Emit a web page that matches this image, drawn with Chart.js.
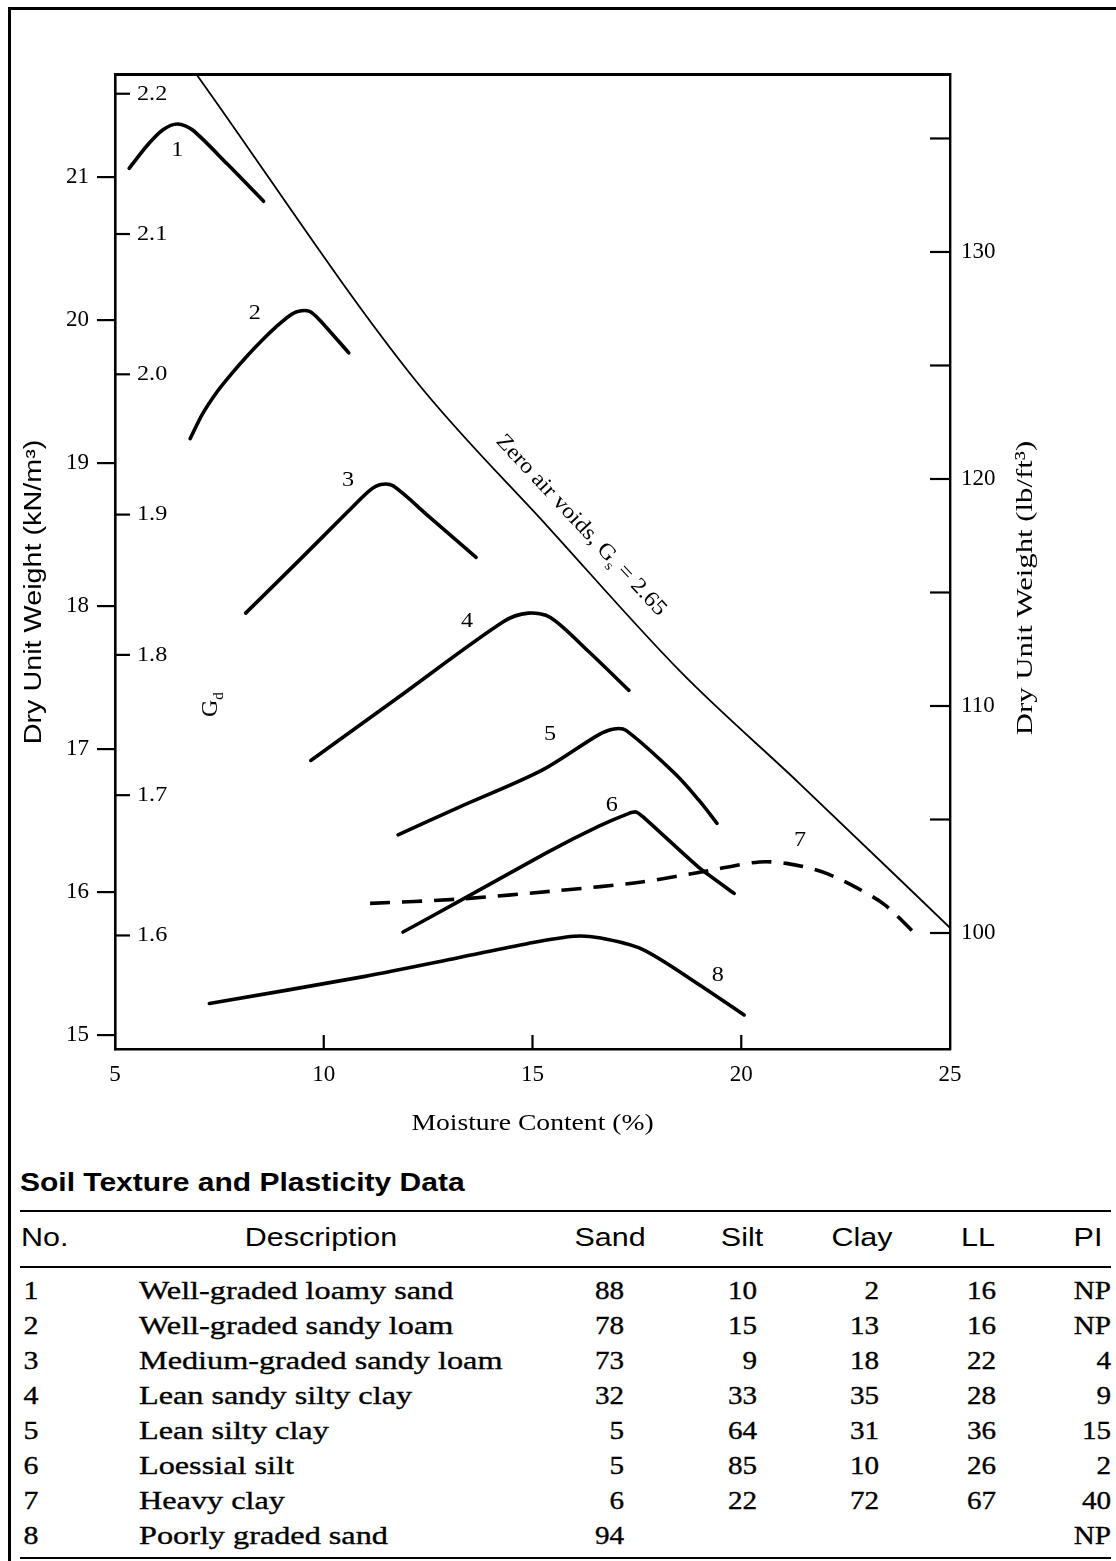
<!DOCTYPE html>
<html>
<head>
<meta charset="utf-8">
<script src="https://cdn.jsdelivr.net/npm/chart.js@4.4.1/dist/chart.umd.min.js"></script>
<style>
html,body{margin:0;padding:0;background:#fff;}
body{width:1116px;height:1561px;position:relative;overflow:hidden;font-family:"Liberation Serif",serif;color:#000;}
#frame{position:absolute;left:8px;top:7px;width:1200px;height:1700px;border-left:3px solid #000;border-top:3px solid #000;}
#wrap{position:absolute;left:0;top:0;width:1116px;height:1150px;}
#c{position:absolute;left:0;top:0;}
.cell{position:absolute;height:34px;line-height:34px;white-space:nowrap;width:0;}
.cell span{display:inline-block;white-space:nowrap;}
.cell.row span{-webkit-text-stroke:0.35px #000;}
.rule{position:absolute;left:20px;width:1091px;background:#000;}
</style>
</head>
<body>
<div id="frame"></div>
<div id="wrap"><canvas id="c" width="1116" height="1150"></canvas></div>
<div id="table"></div>
<script>
// ---------------- chart data ----------------
const xTicks = [5, 10, 15, 20, 25];
const xInnerTicks = [10, 15, 20];
const yTicks = [15, 16, 17, 18, 19, 20, 21];           // kN/m3
const yMin = 14.902, yMax = 21.72;
const y2Ticks = [100, 105, 110, 115, 120, 125, 130, 135]; // lb/ft3
const y2Labels = [100, 110, 120, 130];
const y2Min = 94.89, y2Max = 137.84;
const mgTicks = [2.2, 2.1, 2.0, 1.9, 1.8, 1.7, 1.6];   // Mg/m3
const gAccel = 9.81;

const c1W = [5.34, 5.77, 6.15, 6.50, 6.85, 7.69, 8.56];
const c1G = [21.06, 21.22, 21.33, 21.37, 21.33, 21.09, 20.83];
const c2W = [6.80, 7.09, 7.45, 7.81, 8.17, 8.53, 8.89, 9.18, 9.38, 9.66, 9.90, 10.60];
const c2G = [19.17, 19.34, 19.50, 19.63, 19.75, 19.86, 19.96, 20.03, 20.06, 20.06, 20.00, 19.77];
const c3W = [8.13, 9.38, 10.58, 11.11, 11.37, 11.66, 12.50, 13.65];
const c3G = [17.95, 18.31, 18.66, 18.81, 18.85, 18.84, 18.63, 18.34];
const c4W = [9.69, 11.78, 14.30, 14.90, 15.43, 16.35, 17.31];
const c4G = [16.92, 17.36, 17.89, 17.95, 17.92, 17.68, 17.41];
const c5W = [11.78, 13.22, 15.22, 16.59, 16.95, 17.24, 18.44, 18.99, 19.42];
const c5G = [16.40, 16.59, 16.85, 17.10, 17.14, 17.13, 16.82, 16.64, 16.48];
const c6W = [11.90, 13.15, 15.31, 16.59, 17.31, 17.48, 17.67, 18.99, 19.83];
const c6G = [15.72, 15.92, 16.27, 16.46, 16.55, 16.56, 16.52, 16.17, 15.99];
const c7W = [11.11, 13.22, 15.63, 17.62, 19.23, 20.43, 21.08, 21.95, 22.76, 23.44, 24.16];
const c7G = [15.92, 15.95, 16.01, 16.07, 16.15, 16.21, 16.20, 16.14, 16.03, 15.91, 15.71];
const c8W = [7.26, 10.99, 13.22, 14.90, 15.99, 16.59, 17.62, 19.00, 20.07];
const c8G = [15.22, 15.41, 15.54, 15.64, 15.69, 15.68, 15.60, 15.35, 15.14];
const zavW = [6.97, 12.19, 15.38, 18.58, 21.39, 25.00];
const zavG = [21.71, 19.58, 18.55, 17.53, 16.76, 15.75];

const curveNames = ['1', '2', '3', '4', '5', '6', '7', '8'];
const curveLabelW = [6.49, 8.35, 10.58, 13.43, 15.42, 16.90, 21.41, 19.44];
const curveLabelG = [21.19, 20.05, 18.88, 17.89, 17.10, 16.61, 16.36, 15.42];

// ---------------- table data ----------------
const tblNo = ['1', '2', '3', '4', '5', '6', '7', '8'];
const tblDesc = ['Well-graded loamy sand', 'Well-graded sandy loam', 'Medium-graded sandy loam',
  'Lean sandy silty clay', 'Lean silty clay', 'Loessial silt', 'Heavy clay', 'Poorly graded sand'];
const tblSand = ['88', '78', '73', '32', '5', '5', '6', '94'];
const tblSilt = ['10', '15', '9', '33', '64', '85', '22', ''];
const tblClay = ['2', '13', '18', '35', '31', '10', '72', ''];
const tblLL = ['16', '16', '22', '28', '36', '26', '67', ''];
const tblPI = ['NP', 'NP', '4', '9', '15', '2', '40', 'NP'];
const tblHeads = ['No.', 'Description', 'Sand', 'Silt', 'Clay', 'LL', 'PI'];

// ---------------- helpers ----------------
const SERIF = '"Liberation Serif", "DejaVu Serif", serif';
const SANS = '"Liberation Sans", Arial, sans-serif';
const pts = (ws, gs) => ws.map((w, i) => ({x: w, y: gs[i]}));
function curveDs(ws, gs, extra) {
  return Object.assign({
    data: pts(ws, gs), showLine: true, pointRadius: 0, borderColor: '#000',
    borderWidth: 3.6, tension: 0.3, xAxisID: 'x', yAxisID: 'y',
    borderCapStyle: 'round', borderJoinStyle: 'round'
  }, extra || {});
}

function stretchedText(ctx, txt, x, y, opt) {
  ctx.save();
  ctx.translate(x, y);
  if (opt.rot) ctx.rotate(opt.rot);
  ctx.scale(opt.sx || 1, 1);
  ctx.font = opt.font;
  ctx.textAlign = opt.align || 'center';
  ctx.textBaseline = opt.base || 'middle';
  ctx.fillStyle = '#000';
  ctx.fillText(txt, 0, 0);
  ctx.restore();
}

// text with subscript: parts [[text, isSub], ...], centered
function subText(ctx, parts, x, y, opt) {
  ctx.save();
  ctx.translate(x, y);
  if (opt.rot) ctx.rotate(opt.rot);
  ctx.scale(opt.sx || 1, 1);
  ctx.textBaseline = 'alphabetic';
  ctx.fillStyle = '#000';
  const big = opt.size + 'px ' + SERIF, small = Math.round(opt.size * 0.62) + 'px ' + SERIF;
  let total = 0;
  parts.forEach(p => { ctx.font = p[1] ? small : big; total += ctx.measureText(p[0]).width; });
  let cx = -total / 2;
  parts.forEach(p => {
    ctx.font = p[1] ? small : big;
    ctx.fillText(p[0], cx, opt.size * 0.33 + (p[1] ? opt.size * 0.25 : 0));
    cx += ctx.measureText(p[0]).width;
  });
  ctx.restore();
}

const annotPlugin = {
  id: 'annot',
  afterDraw(chart) {
    const {ctx, chartArea: a} = chart;
    const x = chart.scales.x, y = chart.scales.y, y2 = chart.scales.y2, yMg = chart.scales.yMg;
    ctx.save();
    ctx.strokeStyle = '#000';
    ctx.lineWidth = 2.2;
    const seg = (x1, y1, x2, y2_) => { ctx.beginPath(); ctx.moveTo(x1, y1); ctx.lineTo(x2, y2_); ctx.stroke(); };
    // inward ticks on moisture axis
    xInnerTicks.forEach(v => { const px = x.getPixelForValue(v); seg(px, a.bottom, px, a.bottom - 14); });
    // inward ticks on lb/ft3 axis
    y2.ticks.forEach(t => { const py = y2.getPixelForValue(t.value); seg(a.right, py, a.right - 20, py); });
    // Mg/m3 inner scale (tied to kN/m3 through yMg)
    mgTicks.forEach(v => {
      const py = yMg.getPixelForValue(v);
      seg(a.left, py, a.left + 15, py);
      stretchedText(ctx, v.toFixed(1), a.left + 22, py, {font: '22px ' + SERIF, align: 'left', sx: 1.1});
    });
    // curve numbers
    curveNames.forEach((n, i) => {
      stretchedText(ctx, n, x.getPixelForValue(curveLabelW[i]), y.getPixelForValue(curveLabelG[i]),
        {font: '22px ' + SERIF, sx: 1.1});
    });
    // zero air voids label
    subText(ctx, [['Zero air voids, G', false], ['s', true], [' = 2.65', false]],
      x.getPixelForValue(16.19), y.getPixelForValue(18.57), {size: 22, rot: 47 * Math.PI / 180, sx: 1.1});
    // G_d label
    subText(ctx, [['G', false], ['d', true]], x.getPixelForValue(7.26), y.getPixelForValue(17.31),
      {size: 24, rot: -Math.PI / 2});
    // axis titles
    stretchedText(ctx, 'Dry Unit Weight (kN/m\u00B3)', 35, 592, {font: '23px ' + SANS, rot: -Math.PI / 2, sx: 1.25});
    stretchedText(ctx, 'Dry Unit Weight (lb/ft\u00B3)', 1026, 588, {font: '24px ' + SERIF, rot: -Math.PI / 2, sx: 1.28});
    stretchedText(ctx, 'Moisture Content (%)', (a.left + a.right) / 2, 1124, {font: '24px ' + SERIF, sx: 1.15});
    ctx.restore();
  }
};

const tickFont = {family: SERIF, size: 23};
new Chart(document.getElementById('c'), {
  type: 'scatter',
  data: {
    datasets: [
      curveDs(zavW, zavG, {borderWidth: 1.8, cubicInterpolationMode: 'monotone'}),
      curveDs(c1W, c1G), curveDs(c2W, c2G, {tension: 0.25}), curveDs(c3W, c3G), curveDs(c4W, c4G),
      curveDs(c5W, c5G), curveDs(c6W, c6G, {tension: 0.15}),
      curveDs(c7W, c7G, {borderDash: [20, 12], borderCapStyle: 'butt'}),
      curveDs(c8W, c8G)
    ]
  },
  options: {
    responsive: false, animation: false, devicePixelRatio: 1,
    layout: {padding: {top: 74, left: 0, right: 0, bottom: 0}},
    plugins: {legend: {display: false}, tooltip: {enabled: false}},
    scales: {
      x: {
        type: 'linear', position: 'bottom', min: 5, max: 25,
        afterBuildTicks: s => { s.ticks = xTicks.map(v => ({value: v})); },
        ticks: {color: '#000', font: tickFont, padding: 12, maxRotation: 0},
        grid: {display: true, drawOnChartArea: false, drawTicks: false},
        border: {display: true, color: '#000', width: 2.6},
        afterFit: s => { s.height = 101; }
      },
      xTop: {
        type: 'linear', position: 'top', min: 5, max: 25,
        ticks: {display: false},
        grid: {display: true, drawOnChartArea: false, drawTicks: false},
        border: {display: true, color: '#000', width: 3},
        afterFit: s => { s.height = 0; }
      },
      y: {
        type: 'linear', position: 'left', min: yMin, max: yMax,
        afterBuildTicks: s => { s.ticks = yTicks.map(v => ({value: v})); },
        ticks: {color: '#000', font: tickFont, padding: 8},
        grid: {display: true, drawOnChartArea: false, drawTicks: true, tickLength: 18, color: '#000', lineWidth: 2.2},
        border: {display: true, color: '#000', width: 2.6},
        afterFit: s => { s.width = 115; }
      },
      y2: {
        type: 'linear', position: 'right', min: y2Min, max: y2Max,
        afterBuildTicks: s => { s.ticks = y2Ticks.map(v => ({value: v})); },
        ticks: {color: '#000', font: tickFont, padding: 11,
          callback: v => (y2Labels.includes(v) ? String(v) : '')},
        grid: {display: true, drawOnChartArea: false, drawTicks: false},
        border: {display: true, color: '#000', width: 2.4},
        afterFit: s => { s.width = 166; }
      },
      yMg: {type: 'linear', display: false, min: yMin / gAccel, max: yMax / gAccel}
    }
  },
  plugins: [annotPlugin]
});

// ---------------- table ----------------
const T = document.getElementById('table');
function cell(txt, x, cy, align, font, sx, cls) {
  const d = document.createElement('div');
  d.className = 'cell' + (cls ? ' ' + cls : '');
  d.style.left = x + 'px';
  d.style.top = (cy - 17) + 'px';
  const s = document.createElement('span');
  s.textContent = txt;
  s.style.font = font;
  let tr, org;
  if (align === 'left') { tr = 'scaleX(' + sx + ')'; org = '0 50%'; }
  else if (align === 'right') { tr = 'translateX(-100%) scaleX(' + sx + ')'; org = '100% 50%'; }
  else { tr = 'translateX(-50%) scaleX(' + sx + ')'; org = '50% 50%'; }
  s.style.transform = tr;
  s.style.transformOrigin = org;
  d.appendChild(s);
  T.appendChild(d);
}
function rule(top, h) {
  const r = document.createElement('div');
  r.className = 'rule';
  r.style.top = top + 'px';
  r.style.height = h + 'px';
  T.appendChild(r);
}
cell('Soil Texture and Plasticity Data', 20, 1185, 'left', 'bold 25px ' + SANS, 1.2);
rule(1210, 2);
rule(1266, 2);
rule(1557, 2);
const headX = [21, 321, 610, 742, 862, 978, 1088];
const headAlign = ['left', 'center', 'center', 'center', 'center', 'center', 'center'];
tblHeads.forEach((h, i) => cell(h, headX[i], 1240, headAlign[i], '25px ' + SANS, 1.22));
const rowFont = '26px ' + SERIF;
tblNo.forEach((n, i) => {
  const cy = 1293 + i * 35;
  cell(n, 31, cy, 'center', rowFont, 1.15, 'row');
  cell(tblDesc[i], 139, cy, 'left', rowFont, 1.24, 'row');
  cell(tblSand[i], 624, cy, 'right', rowFont, 1.12, 'row');
  cell(tblSilt[i], 757, cy, 'right', rowFont, 1.12, 'row');
  cell(tblClay[i], 879, cy, 'right', rowFont, 1.12, 'row');
  cell(tblLL[i], 996, cy, 'right', rowFont, 1.12, 'row');
  cell(tblPI[i], 1111, cy, 'right', rowFont, 1.12, 'row');
});
</script>
</body>
</html>
